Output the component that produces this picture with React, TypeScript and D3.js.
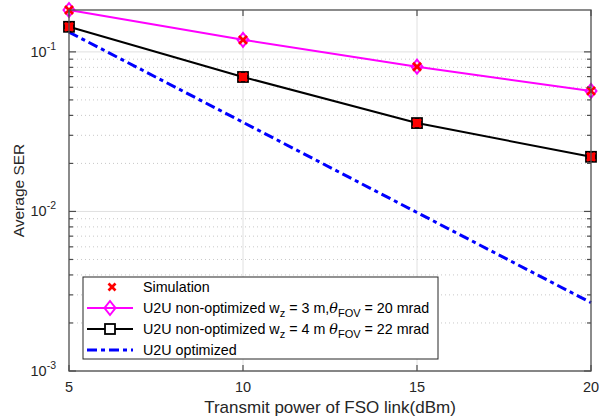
import React from "react";
import * as d3 from "d3";

const xValues = [5, 10, 15, 20];
const magentaSER = [0.183, 0.119, 0.0807, 0.0569];
const blackSER = [0.1436, 0.0696, 0.0358, 0.022];
const blueSER = [0.133, 0.0362, 0.00985, 0.00268];
const xTicks = [5, 10, 15, 20];
const yMajor = [1e-3, 1e-2, 1e-1];
const yExp = ["-3", "-2", "-1"];

const W = 599, H = 417;
const M = { left: 69, right: 591, top: 10, bottom: 371 };

export default function App() {
  const x = d3.scaleLinear().domain([5, 20]).range([M.left, M.right]);
  const y = d3.scaleLog().domain([1e-3, 0.183]).range([M.bottom, M.top]);
  const line = d3
    .line<[number, number]>()
    .x((d) => x(d[0]))
    .y((d) => y(d[1]));
  const pts = (vals: number[]) => xValues.map((v, i) => [v, vals[i]] as [number, number]);

  const minors: number[] = [];
  for (const dec of [1e-3, 1e-2, 1e-1]) {
    for (let k = 2; k <= 9; k++) {
      const v = dec * k;
      if (v <= 0.183) minors.push(v);
    }
  }

  const font = "'Liberation Sans', Arial, Helvetica, sans-serif";
  const axisCol = "#4d4d4d";

  const xMark = (cx: number, cy: number, s: number, key?: string) => (
    <g key={key} stroke="#ff0000" strokeWidth={2.6} strokeLinecap="butt">
      <line x1={cx - s} y1={cy - s} x2={cx + s} y2={cy + s} />
      <line x1={cx - s} y1={cy + s} x2={cx + s} y2={cy - s} />
    </g>
  );
  const diamond = (cx: number, cy: number, key?: string) => (
    <path
      key={key}
      d={`M${cx},${cy - 7}L${cx + 5.5},${cy}L${cx},${cy + 7}L${cx - 5.5},${cy}Z`}
      fill="none"
      stroke="#ff00ff"
      strokeWidth={2}
    />
  );
  const square = (cx: number, cy: number, key?: string) => (
    <rect key={key} x={cx - 5} y={cy - 5} width={10} height={10} fill="#ff0000" stroke="#000" strokeWidth={1.8} />
  );

  const lx0 = 87, lx1 = 133, lmid = 110, ltx = 143;
  const rows = [287, 308, 329, 350];

  return (
    <svg width={W} height={H} style={{ position: "absolute", left: 0, top: 0, background: "#fff" }} fontFamily={font}>
      <rect x={0} y={0} width={W} height={H} fill="#fff" />
      {/* minor grid */}
      {minors.map((v, i) => (
        <line key={"mg" + i} x1={M.left} x2={M.right} y1={y(v)} y2={y(v)} stroke="#c8c8c8" strokeWidth={1} strokeDasharray="1,3" />
      ))}
      {/* major grid */}
      {yMajor.map((v, i) => (
        <line key={"Mg" + i} x1={M.left} x2={M.right} y1={y(v)} y2={y(v)} stroke="#e0e0e0" strokeWidth={1} />
      ))}
      {xTicks.slice(1, 3).map((v, i) => (
        <line key={"xg" + i} x1={x(v)} x2={x(v)} y1={M.top} y2={M.bottom} stroke="#e0e0e0" strokeWidth={1} />
      ))}

      {/* lines */}
      <path d={line(pts(blueSER)) || ""} fill="none" stroke="#0000ff" strokeWidth={3} strokeDasharray="10,4,4,4" />
      <path d={line(pts(magentaSER)) || ""} fill="none" stroke="#ff00ff" strokeWidth={2} />
      <path d={line(pts(blackSER)) || ""} fill="none" stroke="#000" strokeWidth={2} />
      {pts(magentaSER).map((d, i) => diamond(x(d[0]), y(d[1]), "d" + i))}
      {pts(blackSER).map((d, i) => square(x(d[0]), y(d[1]), "s" + i))}
      {pts(magentaSER).map((d, i) => xMark(x(d[0]), y(d[1]), 4, "xm" + i))}
      {pts(blackSER).map((d, i) => xMark(x(d[0]), y(d[1]), 4, "xb" + i))}

      {/* axes box */}
      <rect x={M.left} y={M.top} width={M.right - M.left} height={M.bottom - M.top} fill="none" stroke={axisCol} strokeWidth={1.3} />
      {/* y ticks */}
      {yMajor.map((v, i) => (
        <g key={"yt" + i} stroke={axisCol} strokeWidth={1.2}>
          <line x1={M.left} x2={M.left + 7} y1={y(v)} y2={y(v)} />
          <line x1={M.right} x2={M.right - 7} y1={y(v)} y2={y(v)} />
        </g>
      ))}
      {minors.map((v, i) => (
        <g key={"ymt" + i} stroke={axisCol} strokeWidth={1.2}>
          <line x1={M.left} x2={M.left + 4} y1={y(v)} y2={y(v)} />
          <line x1={M.right} x2={M.right - 4} y1={y(v)} y2={y(v)} />
        </g>
      ))}
      {xTicks.map((v, i) => (
        <g key={"xt" + i} stroke={axisCol} strokeWidth={1.2}>
          <line x1={x(v)} x2={x(v)} y1={M.bottom} y2={M.bottom - 6} />
          <line x1={x(v)} x2={x(v)} y1={M.top} y2={M.top + 6} />
        </g>
      ))}
      {/* tick labels */}
      {xTicks.map((v, i) => (
        <text key={"xl" + i} x={x(v)} y={392} textAnchor="middle" fontSize={14.5} fill="#262626">
          {v}
        </text>
      ))}
      {yMajor.map((v, i) => (
        <text key={"yl" + i} x={56} y={y(v) + 5} textAnchor="end" fontSize={14.5} fill="#262626">
          10
          <tspan fontSize={10.5} dy={-7}>
            {yExp[i]}
          </tspan>
        </text>
      ))}
      <text x={(M.left + M.right) / 2} y={413} textAnchor="middle" fontSize={17} fill="#262626">
        Transmit power of FSO link(dBm)
      </text>
      <text transform={`translate(24,${(M.top + M.bottom) / 2}) rotate(-90)`} textAnchor="middle" fontSize={15.5} fill="#262626">
        Average SER
      </text>

      {/* legend */}
      <rect x={83} y={277} width={355} height={82} fill="#fff" stroke="#262626" strokeWidth={1} />
      {xMark(lmid + 2, rows[0], 3.5)}
      <line x1={lx0} x2={lx1} y1={rows[1]} y2={rows[1]} stroke="#ff00ff" strokeWidth={2} />
      {diamond(lmid, rows[1])}
      <line x1={lx0} x2={lx1} y1={rows[2]} y2={rows[2]} stroke="#000" strokeWidth={2} />
      <rect x={lmid - 5} y={rows[2] - 5} width={10} height={10} fill="#fff" stroke="#000" strokeWidth={1.8} />
      <line x1={lx0} x2={lx1} y1={rows[3]} y2={rows[3]} stroke="#0000ff" strokeWidth={3} strokeDasharray="10,4,4,4" />
      <g fontSize={14.3} fill="#000">
        <text x={ltx} y={rows[0] + 5}>Simulation</text>
        <text x={ltx} y={rows[1] + 5}>
          U2U non-optimized w<tspan fontSize={11} dy={4}>z</tspan>
          <tspan dy={-4}> = 3 m,</tspan>
          <tspan fontFamily="'DejaVu Serif', serif" fontStyle="italic">θ</tspan>
          <tspan fontSize={11} dy={4}>FOV</tspan>
          <tspan dy={-4}> = 20 mrad</tspan>
        </text>
        <text x={ltx} y={rows[2] + 5}>
          U2U non-optimized w<tspan fontSize={11} dy={4}>z</tspan>
          <tspan dy={-4}> = 4 m </tspan>
          <tspan fontFamily="'DejaVu Serif', serif" fontStyle="italic">θ</tspan>
          <tspan fontSize={11} dy={4}>FOV</tspan>
          <tspan dy={-4}> = 22 mrad</tspan>
        </text>
        <text x={ltx} y={rows[3] + 5}>U2U optimized</text>
      </g>
    </svg>
  );
}
